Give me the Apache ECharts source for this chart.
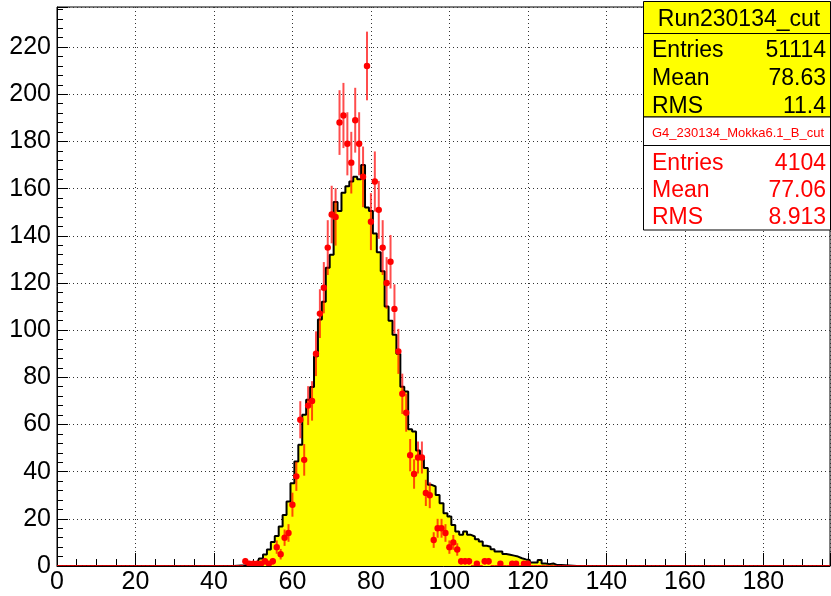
<!DOCTYPE html>
<html><head><meta charset="utf-8">
<script src="https://cdn.jsdelivr.net/npm/echarts@6/dist/echarts.min.js"></script>
<style>html,body{margin:0;padding:0;background:#fff}#c{width:831px;height:596px}</style>
</head><body><div id="c"></div>
<script>
// ---- axis ranges / ticks ----
const xRange = [0, 197];
const yRange = [0, 237];
const xTickStep = 20;
const yTickStep = 20;

// ---- simulation histogram (yellow), bin centers at integers, width 1 ----
const simFirstBin = 44;
const simValues = [
  0, 0, 0.1, 0.2, 0.3, 0.5, 0.7, 1.1, 3.2, 4.9,          // 44-53
  7, 10.2, 12.7, 16.7, 21.6, 27.3, 35.1, 44.3, 51.4, 64.1, // 54-63
  70.5, 75.9, 88.9, 104.5, 112, 126.4, 132, 154.3, 150.5, 158.2, // 64-73
  161, 163, 165, 164, 170, 152, 150.5, 141, 133, 125,     // 74-83
  110, 104, 98, 90, 76, 74, 58, 57, 49, 46,               // 84-93
  41.5, 34.4, 33.7, 30.1, 26.6, 22.4, 21, 17.4, 14.6, 13.2, // 94-103
  14.6, 13.2, 12.5, 11.3, 10.4, 8.6, 8.2, 7.1, 6.1, 6.1,  // 104-113
  5.1, 4.8, 4.4, 4.0, 3.3, 2.8, 2.5, 1.5, 1.5, 2.5,       // 114-123
  1.1, 0.8, 1.1, 0.4, 0.4, 0.3, 0.2, 0.1                  // 124-131
];

// ---- data histogram (red points), raw counts ----
const dataFirstBin = 48;
const dataCounts = [
  2, 1, 1, 1, 1, 2, 1, 2, 8, 5,            // 48-57
  12, 14, 26, 38, 62, 45, 68, 70, 90, 107, // 58-67
  118, 135, 149, 148, 188, 191, 179, 171, 189, 179, // 68-77
  165, 212, 146, 163, 151, 135, 120, 129, 109, 91,  // 78-87
  73, 65, 47, 39, 46, 46, 31, 30, 11, 16,  // 88-97
  16, 14, 8, 10, 7, 2, 2, 2, 0, 1,         // 98-107
  0, 2, 2, 0, 0, 1, 0, 0, 1, 1,            // 108-117
  0, 1, 1                                  // 118-120
];

// ---- stats boxes ----
const simTitle = 'Run230134_cut';
const simStats = [['Entries', '51114'], ['Mean', '78.63'], ['RMS', '11.4']];
const dataTitle = 'G4_230134_Mokka6.1_B_cut';
const dataStats = [['Entries', '4104'], ['Mean', '77.06'], ['RMS', '8.913']];

// ---- build full-range bin tables ----
const nBins = xRange[1];
const simSeries = [], dataSeries = [];
for (let b = 0; b <= nBins; b++) {
  const si = b - simFirstBin;
  simSeries.push([b, (si >= 0 && si < simValues.length) ? simValues[si] : 0]);
  const di = b - dataFirstBin;
  dataSeries.push([b, (di >= 0 && di < dataCounts.length) ? dataCounts[di] : 0]);
}

const FONT = 'Liberation Sans, Arial, Helvetica, sans-serif';
const chart = echarts.init(document.getElementById('c'));

function statRows(rows, y0, dy, color) {
  const out = [];
  rows.forEach((r, i) => {
    out.push({type: 'text', z: 101, x: 652, y: y0 + i * dy,
      style: {text: r[0], fill: color, font: '23px ' + FONT, textAlign: 'left', textVerticalAlign: 'middle'}});
    out.push({type: 'text', z: 101, x: 826, y: y0 + i * dy,
      style: {text: r[1], fill: color, font: '23px ' + FONT, textAlign: 'right', textVerticalAlign: 'middle'}});
  });
  return out;
}

const option = {
  animation: false,
  backgroundColor: '#fff',
  grid: {left: 57, top: 7, right: 1, bottom: 30, show: true, borderColor: '#000', borderWidth: 1, backgroundColor: 'transparent'},
  xAxis: {
    type: 'value', min: xRange[0], max: xRange[1], interval: xTickStep,
    axisLine: {show: true, onZero: false, lineStyle: {color: '#000', width: 1}},
    axisTick: {show: true, inside: true, length: 13, lineStyle: {color: '#000'}},
    minorTick: {show: true, splitNumber: 4, length: 7, lineStyle: {color: '#000'}},
    axisLabel: {color: '#000', fontSize: 25, fontFamily: FONT, margin: 4, showMaxLabel: false},
    splitLine: {show: true, lineStyle: {color: '#333', type: [1, 3], width: 1}}
  },
  yAxis: {
    type: 'value', min: yRange[0], max: yRange[1], interval: yTickStep,
    axisLine: {show: true, onZero: false, lineStyle: {color: '#000', width: 1}},
    axisTick: {show: true, inside: true, length: 11, lineStyle: {color: '#000'}},
    minorTick: {show: true, splitNumber: 5, length: 6, lineStyle: {color: '#000'}},
    axisLabel: {color: '#000', fontSize: 25, fontFamily: FONT, margin: 6, showMaxLabel: false, padding: [7, 0, 0, 0]},
    splitLine: {show: true, lineStyle: {color: '#333', type: [1, 3], width: 1}}
  },
  series: [
    {
      type: 'line', step: 'middle', data: simSeries, showSymbol: false, z: 2,
      lineStyle: {color: '#000', width: 2},
      areaStyle: {color: '#ffff00', opacity: 1, origin: 'start'}
    },
    {
      type: 'custom', data: dataSeries, z: 5, clip: true,
      renderItem: function (params, api) {
        const x = api.value(0), c = api.value(1);
        const l = api.coord([x - 0.5, c]), r = api.coord([x + 0.5, c]);
        const children = [{type: 'line', shape: {x1: l[0], y1: l[1], x2: r[0], y2: r[1]},
          style: {stroke: 'rgba(255,0,0,0.8)', lineWidth: 2}}];
        if (c > 0) {
          const e = Math.sqrt(c);
          const lo = api.coord([x, c - e]), hi = api.coord([x, c + e]), p = api.coord([x, c]);
          children.push({type: 'line', shape: {x1: p[0], y1: lo[1], x2: p[0], y2: hi[1]},
            style: {stroke: 'rgba(255,0,0,0.7)', lineWidth: 2}});
          children.push({type: 'circle', shape: {cx: p[0], cy: p[1], r: 3.2}, style: {fill: '#ff0000'}});
        }
        return {type: 'group', children: children};
      }
    }
  ],
  graphic: [
    {type: 'rect', z: 100, shape: {x: 643.5, y: 1.5, width: 187, height: 115.5},
      style: {fill: '#ffff00', stroke: '#000', lineWidth: 1}},
    {type: 'line', z: 100, shape: {x1: 643.5, y1: 33.5, x2: 830.5, y2: 33.5}, style: {stroke: '#000', lineWidth: 1}},
    {type: 'text', z: 101, x: 739, y: 20,
      style: {text: simTitle, fill: '#000', font: '23px ' + FONT, textAlign: 'center', textVerticalAlign: 'middle'}},
    ...statRows(simStats, 51, 28, '#000'),
    {type: 'rect', z: 100, shape: {x: 643.5, y: 117, width: 187, height: 113},
      style: {fill: '#ffffff', stroke: '#000', lineWidth: 1}},
    {type: 'line', z: 100, shape: {x1: 643.5, y1: 145.5, x2: 830.5, y2: 145.5}, style: {stroke: '#000', lineWidth: 1}},
    {type: 'text', z: 101, x: 738, y: 133,
      style: {text: dataTitle, fill: '#ff0000', font: '13px ' + FONT, textAlign: 'center', textVerticalAlign: 'middle'}},
    ...statRows(dataStats, 163.5, 27, '#ff0000')
  ]
};
chart.setOption(option);
</script>
</body></html>
